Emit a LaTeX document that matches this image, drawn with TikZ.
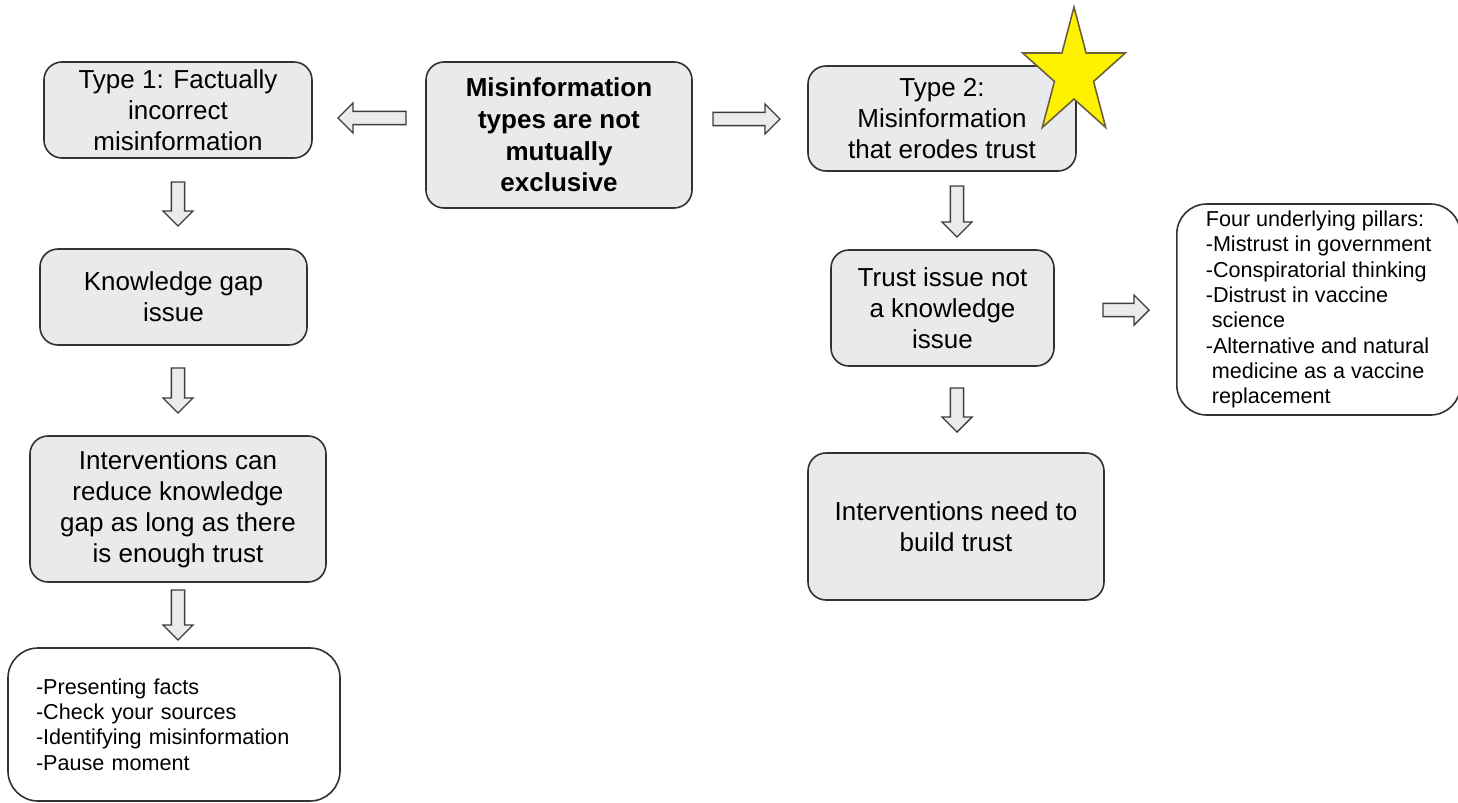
\documentclass[tikz,border=0pt]{standalone}
\usepackage{fontspec}
\setmainfont{Liberation Sans}
\usetikzlibrary{calc}
\definecolor{boxfill}{RGB}{232,234,235}
\definecolor{boxline}{RGB}{50,50,50}
\definecolor{arrowfill}{RGB}{234,236,236}
\definecolor{arrowline}{RGB}{60,60,60}
\definecolor{starline}{RGB}{110,96,60}
\begin{document}
\begin{tikzpicture}[x=0.5pt,y=-0.5pt,
  box/.style={draw=boxline, line width=0.8pt, fill=boxfill, rounded corners=9pt,
    align=center, inner sep=0pt, font=\fontsize{13}{15.5}\selectfont},
  listbox/.style={draw=boxline, line width=0.8pt, fill=white, rounded corners=14pt,
    align=left, inner ysep=0pt, font=\fontsize{10.8}{12.65}\selectfont},
  blockarrow/.style={draw=arrowline, fill=arrowfill, line width=0.7pt, line join=miter,
    to path={ ($(\tikztotarget)!7.5pt!(\tikztostart)$) coordinate (bah)
      ($(\tikztostart)!3.3pt!90:(\tikztotarget)$)
      -- ($(bah)!3.3pt!90:(\tikztotarget)$)
      -- ($(bah)!7.5pt!90:(\tikztotarget)$)
      -- (\tikztotarget)
      -- ($(bah)!7.5pt!-90:(\tikztotarget)$)
      -- ($(bah)!3.3pt!-90:(\tikztotarget)$)
      -- ($(\tikztostart)!3.3pt!-90:(\tikztotarget)$) -- cycle}},
  starstyle/.style={draw=starline, fill=yellow, line width=0.8pt, line join=miter}]
\useasboundingbox (0,0) rectangle (1458,803);
\clip (0,0) rectangle (1458,803);

% boxes
\node[box, minimum width=134pt, minimum height=48pt] (type1) at (178,110)
  {Type 1: Factually\\incorrect\\misinformation};
\node[box, minimum width=133pt, minimum height=73pt,
  font=\fontsize{13}{15.85}\selectfont\bfseries] (center) at (559,135)
  {Misinformation\\types are not\\mutually\\exclusive};
\node[box, minimum width=134pt, minimum height=52.5pt] (type2) at (942,118.5)
  {Type 2:\\Misinformation\\that erodes trust};
\node[box, minimum width=133.5pt, minimum height=48pt] (gap) at (173.5,297)
  {Knowledge gap\\issue};
\node[box, minimum width=148pt, minimum height=73pt] (intv1) at (178,509)
  {Interventions can\\reduce knowledge\\gap as long as there\\is enough trust};
\node[box, minimum width=111.5pt, minimum height=58pt] (trust) at (942.5,308)
  {Trust issue not\\a knowledge\\issue};
\node[box, minimum width=148pt, minimum height=73.5pt] (intv2) at (956,526.5)
  {Interventions need to\\build trust};
\node[listbox, text width=138pt, inner xsep=14pt, minimum height=76.5pt,
  rounded corners=15pt] (list1) at (174,724.5)
  {-Presenting facts\\-Check your sources\\-Identifying misinformation\\-Pause moment};
\node[listbox, anchor=west, inner xsep=14.5pt, minimum height=105.5pt,
  rounded corners=15pt] (pillars) at (1176,309.5)
  {Four underlying pillars:\\-Mistrust in government\\-Conspiratorial thinking\\-Distrust in vaccine\\\hspace{3pt}science\\-Alternative and natural\\\hspace{3pt}medicine as a vaccine\\\hspace{3pt}replacement};

% star
\begin{scope}[shift={(1074,73.6)}, xscale=0.81]
\draw[starstyle] (-90:66.6) -- (-54:25.4) -- (-18:66.6) -- (18:25.4) -- (54:66.6)
  -- (90:25.4) -- (126:66.6) -- (162:25.4) -- (198:66.6) -- (234:25.4) -- cycle;
\end{scope}

% arrow end points
\coordinate (aLs) at (406,118);  \coordinate (aLe) at (338,118);
\coordinate (aRs) at (713,119);  \coordinate (aRe) at (780,119);
\coordinate (d1s) at (178,182);  \coordinate (d1e) at (178,226);
\coordinate (d2s) at (178,368);  \coordinate (d2e) at (178,413);
\coordinate (d3s) at (178,590);  \coordinate (d3e) at (178,640);
\coordinate (d4s) at (957,186);  \coordinate (d4e) at (957,237);
\coordinate (d5s) at (957,388);  \coordinate (d5e) at (957,432);
\coordinate (aPs) at (1103,310); \coordinate (aPe) at (1149,310);

\draw[blockarrow] (aLs) to (aLe);
\draw[blockarrow] (aRs) to (aRe);
\draw[blockarrow] (d1s) to (d1e);
\draw[blockarrow] (d2s) to (d2e);
\draw[blockarrow] (d3s) to (d3e);
\draw[blockarrow] (d4s) to (d4e);
\draw[blockarrow] (d5s) to (d5e);
\draw[blockarrow] (aPs) to (aPe);
\end{tikzpicture}
\end{document}
